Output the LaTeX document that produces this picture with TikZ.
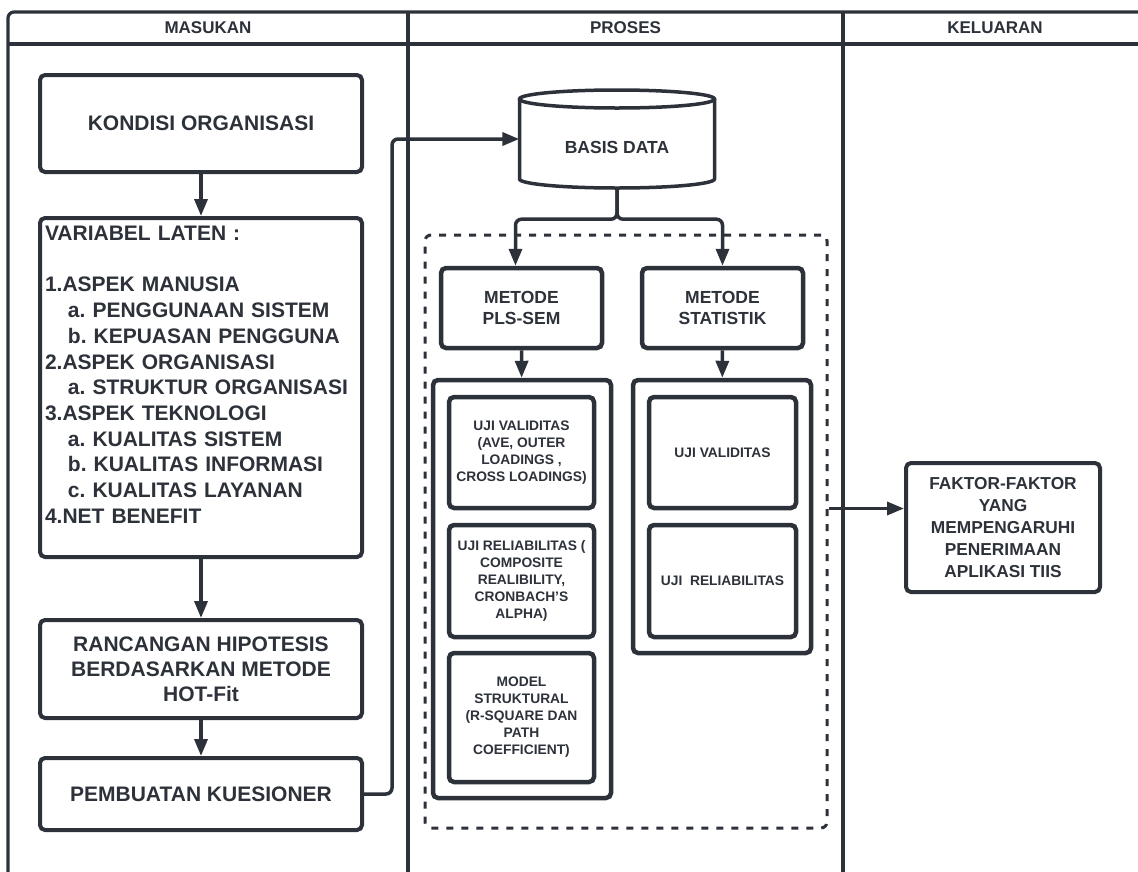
\documentclass[tikz,border=0pt]{standalone}
\usepackage{fontspec}
\setmainfont{Liberation Sans}
\usepackage{xcolor}
\usetikzlibrary{positioning, fit, arrows.meta, calc}
\definecolor{ink}{RGB}{45,50,58}

\begin{document}
\begin{tikzpicture}[x=1pt, y=1pt,
    every node/.style={text=ink, align=center},
    stage/.style={draw=ink, line width=4pt, rounded corners=5pt, inner sep=4pt},
    uji/.style={stage, line width=4.5pt},
    arr/.style={draw=ink, line width=3.5pt, -{Triangle[length=17pt,width=13pt]}, rounded corners=6pt},
    head/.style={font=\bfseries\fontsize{17}{20}\selectfont},
    big/.style={font=\bfseries\fontsize{21}{25}\selectfont},
    mid/.style={font=\bfseries\fontsize{17.5}{21.5}\selectfont},
    small/.style={font=\bfseries\fontsize{13.8}{17}\selectfont}]

  \clip (0,0) rectangle (1138,-871);
  \fill[white] (0,0) rectangle (1138,-871);

  % Frame with three columns
  \draw[ink, line width=3.2pt, rounded corners=6pt] (8,-890) -- (8,-12) -- (1150,-12);
  \draw[ink, line width=3.2pt] (8,-44) -- (1150,-44);
  \foreach \x in {408,843} {
    \draw[ink, line width=3.2pt] (\x,-12) -- (\x,-890);
  }
  \foreach \x/\name/\label in {208/hmasukan/MASUKAN, 625.5/hproses/PROSES, 995/hkeluaran/KELUARAN} {
    \node[head] (\name) at (\x,-28) {\label};
  }

  % Masukan
  \node[stage, big, minimum width=322pt, minimum height=97pt] (kondisi) at (201,-123.5) {KONDISI ORGANISASI};
  \node[stage, font=\bfseries\frenchspacing\fontsize{21}{25.7}\selectfont, align=left, text width=312pt,
        minimum width=322pt, minimum height=339pt] (variabel) at (201,-387.5) {VARIABEL LATEN :\\[25.7pt]1.ASPEK MANUSIA\\
    \hspace*{23pt}a. PENGGUNAAN SISTEM\\
    \hspace*{23pt}b. KEPUASAN PENGGUNA\\
    2.ASPEK ORGANISASI\\
    \hspace*{23pt}a. STRUKTUR ORGANISASI\\
    3.ASPEK TEKNOLOGI\\
    \hspace*{23pt}a. KUALITAS SISTEM\\
    \hspace*{23pt}b. KUALITAS INFORMASI\\
    \hspace*{23pt}c. KUALITAS LAYANAN\\
    4.NET BENEFIT\\~};
  \node[stage, big, minimum width=322pt, minimum height=98pt] (rancangan) at (201,-669) {RANCANGAN HIPOTESIS\\BERDASARKAN METODE\\HOT-Fit};
  \node[stage, big, minimum width=322pt, minimum height=72pt] (kuesioner) at (201,-794) {PEMBUATAN KUESIONER};

  % Proses
  \node[mid, minimum width=195pt, minimum height=98pt] (basis) at (617,-139) {\smash{\raisebox{-14pt}{BASIS DATA}}};
  \draw[ink, line width=3.5pt] (617,-99) ellipse (97.5pt and 9pt);
  \draw[ink, line width=3.5pt] (519.5,-99) -- (519.5,-179) arc (180:360:97.5pt and 9pt) -- (714.5,-99);

  \node[draw=ink, line width=3pt, dash pattern=on 7pt off 8pt, rounded corners=6pt,
        minimum width=402pt, minimum height=593pt] (analisis) at (626,-531.5) {};

  \node[uji, mid, minimum width=161pt, minimum height=80pt] (pls) at (521.5,-308) {METODE\\PLS-SEM};
  \node[uji, mid, minimum width=161pt, minimum height=80pt] (stat) at (722.5,-308) {METODE\\STATISTIK};
  \node[uji, minimum width=178pt, minimum height=418pt] (plsbox) at (522,-589) {};
  \node[uji, minimum width=178pt, minimum height=273pt] (statbox) at (722,-516.5) {};

  \node[uji, small, minimum width=145pt, minimum height=111pt] (validpls) at (521.5,-452.5) {UJI VALIDITAS\\(AVE, OUTER\\LOADINGS ,\\CROSS LOADINGS)};
  \node[uji, small, minimum width=145pt, minimum height=112pt] (reliapls) at (521.5,-581) {UJI RELIABILITAS (\\COMPOSITE\\REALIBILITY,\\CRONBACH'S\\ALPHA)};
  \node[uji, small, minimum width=145pt, minimum height=129pt] (model) at (521.5,-717.5) {MODEL\\STRUKTURAL\\(R-SQUARE DAN\\PATH\\COEFFICIENT)};
  \node[uji, small, minimum width=147pt, minimum height=111pt] (validstat) at (722.5,-452.5) {UJI VALIDITAS};
  \node[uji, small, minimum width=147pt, minimum height=112pt] (reliastat) at (722.5,-581) {UJI\ \ RELIABILITAS};

  % Keluaran
  \node[stage, font=\bfseries\fontsize{17.3}{22}\selectfont, minimum width=194pt, minimum height=129pt] (faktor) at (1003,-527.5) {FAKTOR-FAKTOR\\YANG\\MEMPENGARUHI\\PENERIMAAN\\APLIKASI TIIS};

  % Connectors
  \draw[arr] (kondisi) -- (variabel);
  \draw[arr] (variabel) -- (rancangan);
  \draw[arr] (rancangan) -- (kuesioner);
  \draw[arr] (kuesioner.east) -- ++(28,0) |- (basis.west);
  \draw[arr] (basis.south) -- ++(0,-31) -| ([xshift=-6pt]pls.north);
  \draw[arr] (basis.south) -- ++(0,-31) -| (stat.north);
  \draw[arr] (pls) -- (plsbox);
  \draw[arr] (stat) -- (statbox);
  \draw[arr] ([yshift=23pt]analisis.east) -- ([yshift=23pt]analisis.east -| faktor.west);
\end{tikzpicture}
\end{document}
